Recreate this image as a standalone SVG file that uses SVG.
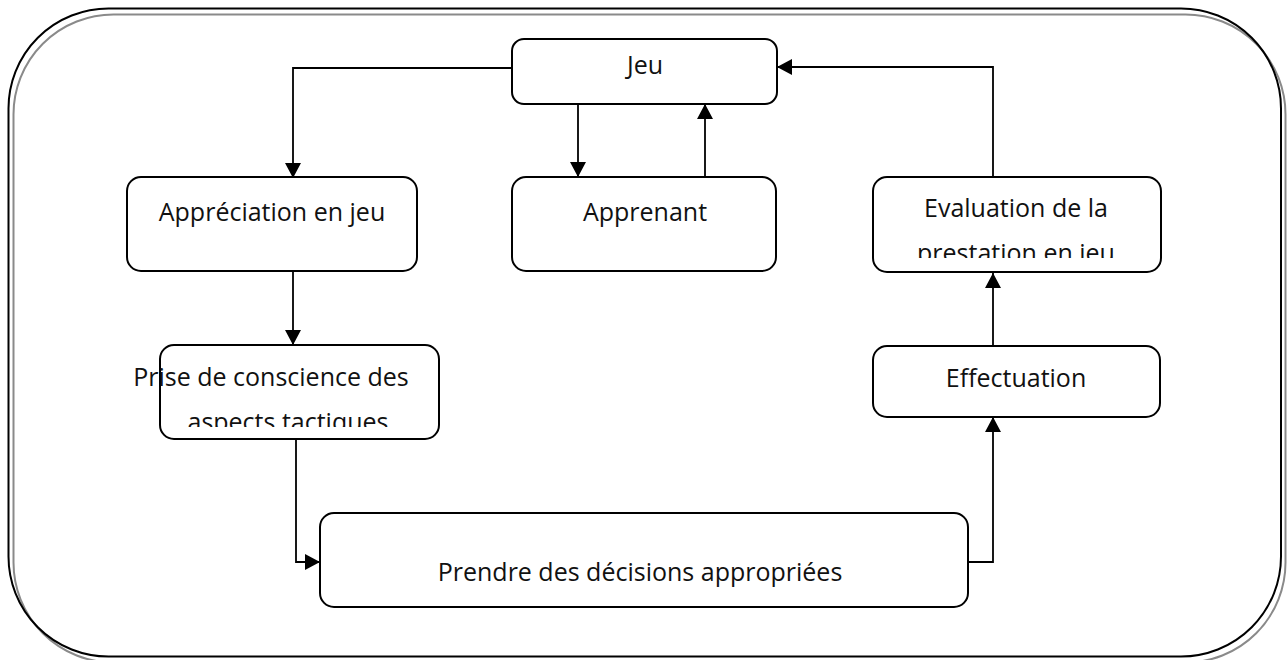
<svg xmlns="http://www.w3.org/2000/svg" width="1288" height="660" viewBox="0 0 1288 660">
  <defs>
    <style>
      .frame { fill: none; stroke: #000; stroke-width: 2; }
      .frame-shadow { fill: none; stroke: #8a8a8a; stroke-width: 2; }
      .node rect { fill: #fff; stroke: #000; stroke-width: 2; }
      .node text { font-family: "Open Sans", "Liberation Sans", sans-serif; font-size: 25px; fill: #111; text-anchor: middle; }
      .link { fill: none; stroke: #000; stroke-width: 1.8; marker-end: url(#head); }
    </style>
    <marker id="head" markerUnits="userSpaceOnUse" markerWidth="16" markerHeight="16" refX="15" refY="8" orient="auto">
      <path d="M0,0 L15,8 L0,16 Z" fill="#000"/>
    </marker>
    <clipPath id="clip-eval"><rect x="860" y="177" width="310" height="81"/></clipPath>
    <clipPath id="clip-prise"><rect x="120" y="345" width="330" height="82"/></clipPath>
  </defs>

  <rect width="1288" height="660" fill="#fff"/>

  <!-- outer frame with offset shadow outline -->
  <rect class="frame-shadow" x="13.5" y="14.5" width="1272" height="648" rx="100" ry="100"/>
  <rect class="frame" x="8.5" y="8.5" width="1272.5" height="648" rx="100" ry="100"/>

  <!-- connectors -->
  <g id="connectors">
    <polyline class="link" points="512,68 293,68 293,178"/>
    <polyline class="link" points="578,104 578,177"/>
    <polyline class="link" points="705,177 705,104"/>
    <polyline class="link" points="993,177 993,67 777,67"/>
    <polyline class="link" points="293,271 293,345"/>
    <polyline class="link" points="296,440 296,562 320,562"/>
    <polyline class="link" points="968,562 993,562 993,417"/>
    <polyline class="link" points="993,346 993,273"/>
  </g>

  <g id="node-jeu" class="node">
    <rect x="512" y="39" width="265" height="65" rx="12"/>
    <text x="645" y="74">Jeu</text>
  </g>

  <g id="node-apprenant" class="node">
    <rect x="512" y="177" width="264" height="94" rx="14"/>
    <text x="645" y="221">Apprenant</text>
  </g>

  <g id="node-appreciation" class="node">
    <rect x="127" y="177" width="290" height="94" rx="14"/>
    <text x="272" y="221">Appréciation en jeu</text>
  </g>

  <g id="node-evaluation" class="node">
    <rect x="873" y="177" width="288" height="95" rx="14"/>
    <g clip-path="url(#clip-eval)">
      <text x="1016" y="217">Evaluation de la</text>
      <text x="1016" y="262">prestation en jeu</text>
    </g>
  </g>

  <g id="node-prise" class="node">
    <rect x="160" y="345" width="279" height="94" rx="14"/>
    <g clip-path="url(#clip-prise)">
      <text x="271" y="386">Prise de conscience des</text>
      <text x="288" y="431">aspects tactiques</text>
    </g>
  </g>

  <g id="node-effectuation" class="node">
    <rect x="873" y="346" width="287" height="71" rx="14"/>
    <text x="1016" y="387">Effectuation</text>
  </g>

  <g id="node-prendre" class="node">
    <rect x="320" y="513" width="648" height="94" rx="14"/>
    <text x="640" y="581">Prendre des décisions appropriées</text>
  </g>
</svg>
